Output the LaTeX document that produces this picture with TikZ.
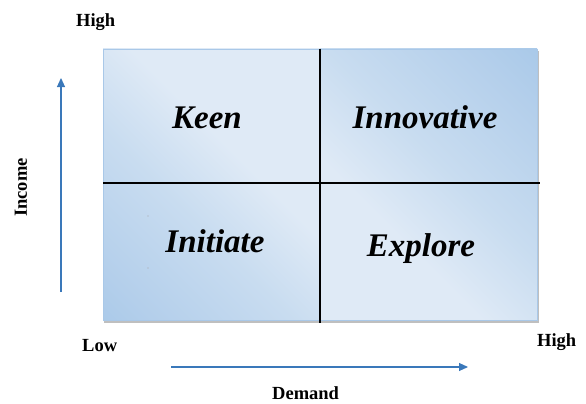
\documentclass[tikz,border=0pt]{standalone}
\usepackage{fontspec}
\setmainfont{Liberation Serif}
\usetikzlibrary{arrows.meta}
\definecolor{qdark}{HTML}{9AC1E6}
\definecolor{qmid}{HTML}{B4CFEB}
\definecolor{qml}{HTML}{C8DCF0}
\definecolor{qlight}{HTML}{DFEAF6}
\definecolor{qborder}{HTML}{A9C8E8}
\definecolor{axisblue}{HTML}{3A78BA}
\pgfdeclarehorizontalshading{leftshade}{100bp}{color(0bp)=(qdark); color(22bp)=(qmid); color(42bp)=(qml); color(58bp)=(qlight); color(100bp)=(qlight)}
\pgfdeclarehorizontalshading{rightshade}{100bp}{color(0bp)=(qlight); color(38bp)=(qlight); color(55bp)=(qml); color(76bp)=(qmid); color(100bp)=(qdark)}
\tikzset{
  quad/.style={font=\fontsize{33}{36}\selectfont\bfseries\itshape, inner sep=0pt, anchor=base},
  axislbl/.style={font=\fontsize{18.5}{20}\selectfont\bfseries, inner sep=0pt},
  divider/.style={black, line width=1.2pt},
  axisarrow/.style={axisblue, line width=1.1pt, -{Triangle[length=9pt,width=8pt]}}
}
\begin{document}
\begin{tikzpicture}[x=1pt,y=-1pt]
\useasboundingbox (0,0) rectangle (586,404);
% shadow
\fill[black!25] (104,51) rectangle (539,322.5);
% gradient halves
\shade[shading=leftshade, shading angle=45] (103,49) rectangle (320,320);
\shade[shading=rightshade, shading angle=45] (320,49) rectangle (537,320);
\draw[qborder, line width=0.8pt] (103,49) rectangle (537,320);
% tiny marks
\fill[black!35] (148,216) circle (0.6);
\fill[black!35] (148,268) circle (0.6);
% dividers
\coordinate (vt) at (320,49);
\coordinate (vb) at (320,323);
\coordinate (hl) at (103,183);
\coordinate (hr) at (540,183);
\draw[divider] (vt) -- (vb);
\draw[divider] (hl) -- (hr);
% quadrant labels
\node[quad] (keen) at (207,128) {Keen};
\node[quad] (innov) at (425,128) {Innovative};
\node[quad] (init) at (215,252) {Initiate};
\node[quad] (expl) at (421,256) {Explore};
% axis labels
\node[axislbl, anchor=base west] (hightop) at (76,26.5) {High};
\node[axislbl, anchor=base west] (highright) at (537,346) {High};
\node[axislbl, anchor=base west] (low) at (82,351) {Low};
\node[axislbl, anchor=base west] (demand) at (272,399.5) {Demand};
\node[axislbl, anchor=base west, rotate=90] (income) at (27,217) {Income};
% axis arrows
\coordinate (ya) at (61,292);
\coordinate (yb) at (61,78);
\coordinate (xa) at (171,367);
\coordinate (xb) at (468,367);
\draw[axisarrow] (ya) -- (yb);
\draw[axisarrow] (xa) -- (xb);
\end{tikzpicture}
\end{document}
